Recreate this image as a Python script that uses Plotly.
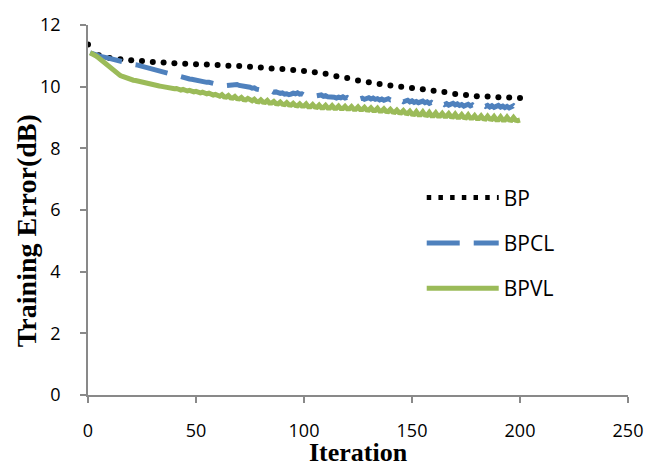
import plotly.graph_objects as go

# ---------------- data ----------------
iterations = list(range(1, 201))

bp_iter = list(range(0, 201, 5))
bp_err = [11.37, 11.02, 10.93, 10.89, 10.86, 10.83, 10.80, 10.78, 10.76, 10.74,
          10.73, 10.72, 10.70, 10.68, 10.67, 10.65, 10.62, 10.59, 10.57, 10.54,
          10.51, 10.47, 10.42, 10.34, 10.28, 10.20, 10.14, 10.09, 10.04, 10.00,
          9.96, 9.92, 9.87, 9.83, 9.76, 9.73, 9.69, 9.68, 9.66, 9.65, 9.63]

bpcl_err = [
    11.10, 11.07, 11.04, 11.01, 10.99, 10.97, 10.96, 10.95, 10.93, 10.92,
    10.90, 10.89, 10.87, 10.85, 10.84, 10.82, 10.80, 10.78, 10.76, 10.75,
    10.73, 10.71, 10.70, 10.68, 10.66, 10.65, 10.63, 10.61, 10.59, 10.57,
    10.55, 10.52, 10.50, 10.47, 10.45, 10.43, 10.41, 10.39, 10.38, 10.36,
    10.34, 10.33, 10.31, 10.30, 10.28, 10.27, 10.25, 10.24, 10.22, 10.21,
    10.20, 10.18, 10.17, 10.16, 10.14, 10.14, 10.11, 10.10, 10.09, 10.07,
    10.08, 10.05, 10.03, 10.04, 10.01, 10.03, 10.06, 10.04, 10.07, 10.04,
    10.03, 10.04, 10.00, 9.99, 9.98, 9.95, 9.96, 9.92, 9.90, 9.91,
    9.88, 9.89, 9.86, 9.85, 9.86, 9.82, 9.83, 9.80, 9.78, 9.80,
    9.76, 9.77, 9.74, 9.76, 9.79, 9.77, 9.80, 9.76, 9.77, 9.73,
    9.74, 9.71, 9.72, 9.68, 9.69, 9.72, 9.70, 9.73, 9.69, 9.71,
    9.67, 9.68, 9.65, 9.66, 9.63, 9.66, 9.64, 9.67, 9.63, 9.65,
    9.61, 9.64, 9.66, 9.62, 9.65, 9.61, 9.63, 9.59, 9.62, 9.64,
    9.60, 9.63, 9.59, 9.61, 9.57, 9.60, 9.56, 9.59, 9.61, 9.57,
    9.59, 9.54, 9.57, 9.52, 9.55, 9.51, 9.54, 9.56, 9.51, 9.54,
    9.49, 9.52, 9.48, 9.51, 9.53, 9.48, 9.51, 9.46, 9.49, 9.44,
    9.47, 9.49, 9.44, 9.47, 9.42, 9.45, 9.40, 9.44, 9.46, 9.41,
    9.44, 9.39, 9.42, 9.37, 9.41, 9.43, 9.38, 9.41, 9.36, 9.39,
    9.35, 9.39, 9.41, 9.36, 9.39, 9.34, 9.38, 9.33, 9.37, 9.39,
    9.34, 9.37, 9.32, 9.36, 9.31, 9.36, 9.38, 9.32, 9.35, 9.29]

bpvl_err = [
    11.10, 11.07, 11.03, 10.98, 10.93, 10.87, 10.81, 10.75, 10.68, 10.61,
    10.55, 10.50, 10.44, 10.40, 10.36, 10.33, 10.30, 10.28, 10.26, 10.23,
    10.21, 10.20, 10.18, 10.16, 10.14, 10.13, 10.11, 10.10, 10.08, 10.06,
    10.05, 10.04, 10.02, 10.01, 9.99, 9.98, 9.97, 9.96, 9.94, 9.93,
    9.94, 9.90, 9.89, 9.91, 9.87, 9.86, 9.88, 9.84, 9.83, 9.85,
    9.81, 9.80, 9.82, 9.78, 9.77, 9.79, 9.75, 9.73, 9.75, 9.71,
    9.69, 9.74, 9.67, 9.66, 9.71, 9.64, 9.63, 9.68, 9.61, 9.60,
    9.65, 9.58, 9.57, 9.62, 9.56, 9.54, 9.59, 9.52, 9.51, 9.57,
    9.50, 9.49, 9.55, 9.47, 9.47, 9.52, 9.45, 9.44, 9.50, 9.43,
    9.42, 9.48, 9.41, 9.40, 9.46, 9.39, 9.38, 9.44, 9.37, 9.37,
    9.44, 9.35, 9.35, 9.42, 9.34, 9.33, 9.40, 9.32, 9.32, 9.39,
    9.31, 9.31, 9.38, 9.30, 9.30, 9.37, 9.29, 9.29, 9.36, 9.28,
    9.28, 9.35, 9.27, 9.27, 9.34, 9.26, 9.26, 9.33, 9.25, 9.24,
    9.31, 9.23, 9.23, 9.30, 9.21, 9.21, 9.28, 9.20, 9.19, 9.26,
    9.18, 9.17, 9.24, 9.16, 9.15, 9.22, 9.14, 9.13, 9.20, 9.11,
    9.10, 9.19, 9.09, 9.09, 9.18, 9.08, 9.07, 9.16, 9.06, 9.06,
    9.15, 9.05, 9.05, 9.13, 9.04, 9.04, 9.12, 9.03, 9.02, 9.11,
    9.01, 9.01, 9.09, 9.00, 8.99, 9.08, 8.98, 8.98, 9.06, 8.97,
    8.97, 9.05, 8.96, 8.95, 9.04, 8.95, 8.94, 9.03, 8.93, 8.93,
    9.02, 8.92, 8.92, 9.01, 8.92, 8.91, 9.00, 8.91, 8.90, 8.92]

series_names = ["BP", "BPCL", "BPVL"]
x_ticks = [0, 50, 100, 150, 200, 250]
y_ticks = [0, 2, 4, 6, 8, 10, 12]

# ---------------- styling ----------------
C_BP = "#000000"
C_BPCL = "#4F81BD"
C_BPVL = "#9BBB59"
AXIS_C = "#898989"
TICK_FONT = dict(family="Open Sans", size=18, color="#000000")
XTITLE_FONT = dict(family="Liberation Serif", size=26, color="#000000")
YTITLE_FONT = dict(family="Liberation Serif", size=28, color="#000000")

fig = go.Figure()

# BP: dotted series drawn as round dots
fig.add_trace(go.Scatter(x=[None], y=[None], mode="lines", name=series_names[0],
                         legendgroup="bp",
                         line=dict(color=C_BP, width=5, dash="4.5px,7.2px")))
fig.add_trace(go.Scatter(x=bp_iter, y=bp_err, mode="markers", name=series_names[0],
                         legendgroup="bp", showlegend=False,
                         marker=dict(color=C_BP, size=6, line=dict(width=0))))
fig.add_trace(go.Scatter(x=iterations, y=bpcl_err, mode="lines", name=series_names[1],
                         legendgroup="bpcl",
                         line=dict(color=C_BPCL, width=5, dash="33px,14px")))
fig.add_trace(go.Scatter(x=iterations, y=bpvl_err, mode="lines", name=series_names[2],
                         legendgroup="bpvl",
                         line=dict(color=C_BPVL, width=5)))

axis_common = dict(showline=True, linecolor=AXIS_C, linewidth=1.5,
                   ticks="outside", ticklen=6, tickwidth=1.5, tickcolor=AXIS_C,
                   showgrid=False, zeroline=False, tickfont=TICK_FONT)

fig.update_xaxes(range=[0, 250], tickvals=x_ticks, ticklabelstandoff=13, **axis_common)
fig.update_yaxes(range=[0, 12], tickvals=y_ticks, ticklabelstandoff=16, **axis_common)

fig.update_layout(
    width=655, height=466,
    margin=dict(l=88, r=18, t=19, b=71, pad=0),
    paper_bgcolor="white", plot_bgcolor="white",
    showlegend=True,
    legend=dict(x=0.618, y=0.588, xanchor="left", yanchor="top",
                bgcolor="rgba(0,0,0,0)", borderwidth=0,
                font=dict(family="Open Sans", size=21, color="#000000"),
                itemwidth=72, traceorder="grouped", tracegroupgap=15),
    annotations=[
        dict(text="<b>Training Error(dB)</b>", xref="paper", yref="paper",
             x=-0.115, y=0.445, xanchor="center", yanchor="middle",
             textangle=-90, showarrow=False, font=YTITLE_FONT),
        dict(text="<b>Iteration</b>", xref="paper", yref="paper",
             x=0.5, y=-0.156, xanchor="center", yanchor="middle",
             showarrow=False, font=XTITLE_FONT),
    ],
)

fig.write_html("out.html")
